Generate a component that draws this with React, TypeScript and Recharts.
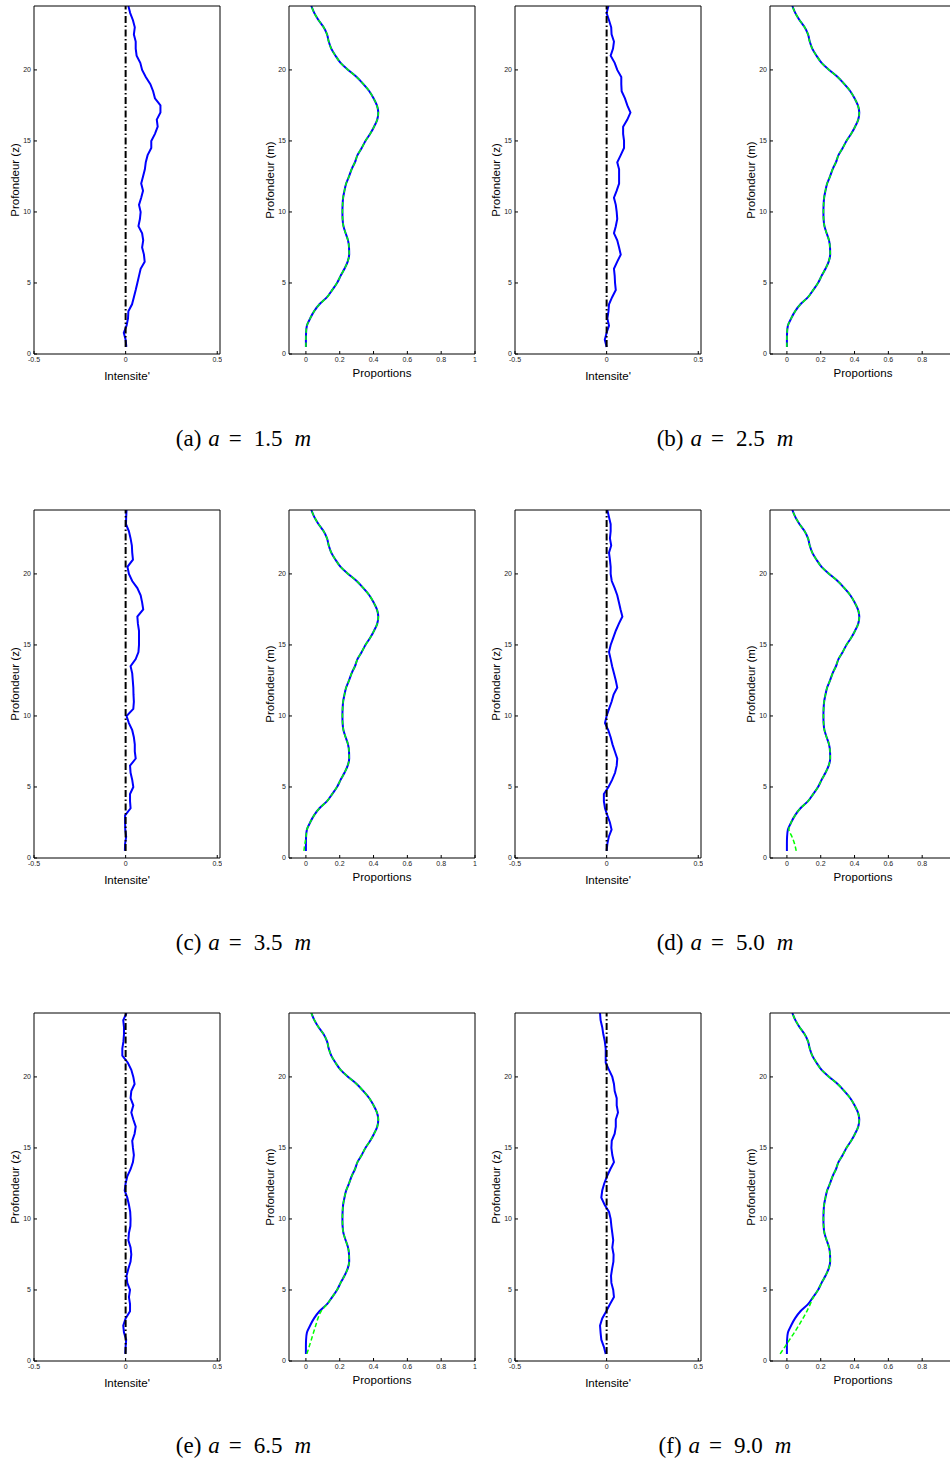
import { LineChart, Line, XAxis, YAxis } from 'recharts';

const SANS = '"Liberation Sans", Arial, Helvetica, sans-serif';
const SERIF = '"Liberation Serif", "Times New Roman", serif';

// depth samples (m), shared by every profile
const depths = [
  0.5, 1, 1.5, 2, 2.5, 3, 3.5, 4, 4.5, 5, 5.5, 6, 6.5, 7, 7.5, 8, 8.5, 9, 9.5, 10,
  10.5, 11, 11.5, 12, 12.5, 13, 13.5, 14, 14.5, 15, 15.5, 16, 16.5, 17, 17.5, 18,
  18.5, 19, 19.5, 20, 20.5, 21, 21.5, 22, 22.5, 23, 23.5, 24, 24.5,
];

// intensity profiles, one per spacing a
const intensityA = [
  0.004, 0, -0.01, 0.005, 0.013, 0.015, 0.035, 0.045, 0.055, 0.064,
  0.073, 0.082, 0.104, 0.1, 0.09, 0.096, 0.09, 0.07, 0.078, 0.082,
  0.073, 0.085, 0.095, 0.085, 0.095, 0.105, 0.11, 0.12, 0.14, 0.14,
  0.16, 0.175, 0.17, 0.19, 0.19, 0.16, 0.15, 0.135, 0.11, 0.09,
  0.08, 0.06, 0.055, 0.055, 0.045, 0.05, 0.04, 0.025, 0.015,
];
const intensityB = [
  0, -0.01, 0, 0.013, 0.004, 0.01, 0.013, 0.03, 0.05, 0.046,
  0.044, 0.04, 0.058, 0.077, 0.068, 0.058, 0.04, 0.05, 0.058, 0.055,
  0.05, 0.04, 0.055, 0.068, 0.068, 0.068, 0.058, 0.077, 0.095, 0.095,
  0.09, 0.09, 0.113, 0.13, 0.113, 0.1, 0.082, 0.08, 0.08, 0.058,
  0.044, 0.022, 0.035, 0.04, 0.027, 0.025, 0.013, 0, 0.01,
];
const intensityC = [
  -0.004, -0.003, 0.003, -0.002, -0.003, -0.003, 0.027, 0.024, 0.024, 0.042,
  0.036, 0.027, 0.024, 0.055, 0.05, 0.05, 0.045, 0.036, 0.018, 0.005,
  0.042, 0.045, 0.043, 0.042, 0.039, 0.036, 0.027, 0.055, 0.07, 0.073,
  0.073, 0.073, 0.067, 0.064, 0.096, 0.09, 0.082, 0.064, 0.036, 0.018,
  0.01, 0.04, 0.036, 0.034, 0.027, 0.018, 0.002, 0.003, 0.005,
];
const intensityD = [
  0, 0.004, 0.012, 0.027, 0.018, 0.004, -0.009, -0.015, -0.015, 0.01,
  0.03, 0.046, 0.055, 0.058, 0.045, 0.032, 0.022, 0.009, -0.009, 0,
  0.013, 0.027, 0.038, 0.058, 0.05, 0.04, 0.03, 0.022, 0.013, 0.022,
  0.036, 0.05, 0.067, 0.086, 0.076, 0.067, 0.058, 0.044, 0.028, 0.022,
  0.022, 0.018, 0.013, 0.025, 0.018, 0.022, 0.022, 0.013, 0.004,
];
const intensityE = [
  -0.002, 0, 0.003, -0.009, -0.013, 0, 0.024, 0.024, 0.018, 0.024,
  0.009, 0.005, 0.015, 0.027, 0.031, 0.027, 0.015, 0.018, 0.026, 0.027,
  0.025, 0.018, 0.009, -0.005, 0, 0.009, 0.027, 0.04, 0.045, 0.04,
  0.036, 0.049, 0.055, 0.042, 0.031, 0.042, 0.027, 0.031, 0.049, 0.042,
  0.031, 0.012, -0.018, -0.018, -0.012, -0.009, -0.009, -0.013, 0.005,
];
const intensityF = [
  -0.005, -0.015, -0.029, -0.033, -0.036, -0.024, -0.002, 0.018, 0.04, 0.036,
  0.026, 0.024, 0.03, 0.037, 0.038, 0.031, 0.036, 0.031, 0.026, 0.022,
  0.013, -0.011, -0.029, -0.024, -0.013, 0.002, 0.02, 0.04, 0.031, 0.026,
  0.028, 0.044, 0.05, 0.05, 0.062, 0.055, 0.055, 0.044, 0.04, 0.031,
  0.013, -0.005, -0.005, -0.005, -0.01, -0.018, -0.024, -0.033, -0.036,
];

// true proportion profile (same in every case)
const proportionTrue = [
  0, 0, 0.001, 0.006, 0.025, 0.048, 0.08, 0.125, 0.155, 0.184,
  0.205, 0.228, 0.247, 0.256, 0.255, 0.249, 0.235, 0.222, 0.217, 0.216,
  0.217, 0.22, 0.228, 0.238, 0.255, 0.27, 0.29, 0.305, 0.33, 0.352,
  0.38, 0.403, 0.422, 0.428, 0.42, 0.4, 0.375, 0.34, 0.3, 0.25,
  0.205, 0.175, 0.15, 0.135, 0.125, 0.105, 0.075, 0.05, 0.032,
];

// estimated proportions only move away from the true profile near the bottom
const estimateLowA: number[] = [];
const estimateLowB: number[] = [];
const estimateLowC = [-0.012, -0.006];
const estimateLowD = [0.055, 0.045, 0.03, 0.012];
const estimateLowE = [0.006, 0.019, 0.032, 0.045, 0.058, 0.071, 0.09];
const estimateLowF = [-0.04, -0.012, 0.016, 0.044, 0.07, 0.095, 0.118, 0.138, 0.157];

const depthTicks = [0, 5, 10, 15, 20];
const intensityTicks = [-0.5, 0, 0.5];
const proportionTicks = [0, 0.2, 0.4, 0.6, 0.8, 1];
const zeroLevel = 0;

const caseTags = ['a', 'b', 'c', 'd', 'e', 'f'];
const spacings = ['1.5', '2.5', '3.5', '5.0', '6.5', '9.0'];
const intensities = [intensityA, intensityB, intensityC, intensityD, intensityE, intensityF];
const estimateLows = [estimateLowA, estimateLowB, estimateLowC, estimateLowD, estimateLowE, estimateLowF];

// layout
const PLOT_W = 186;
const PLOT_H = 348;
const AXIS_W = 38;
const TOP_PAD = 6;
const ROW_TOPS = [6, 510, 1013];
const COL_LEFTS = [34, 515];
const PAIR_GAP = 255;
const CAPTION_X = [243.5, 725];

const tickStyle = { fontSize: 7, fill: '#222', fontFamily: SANS };
const frameStroke = { stroke: '#000', strokeWidth: 1 };

function IntensityPanel({ values, left, top }: { values: number[]; left: number; top: number }) {
  const rows = depths.map((z, i) => ({ z, value: values[i], zero: zeroLevel }));
  const domain: [number, number] = [-0.5, 0.515];
  return (
    <div style={{ position: 'absolute', left: left - AXIS_W, top: top - TOP_PAD }}>
      <LineChart
        layout="vertical"
        width={AXIS_W + PLOT_W + 2}
        height={TOP_PAD + PLOT_H + 44}
        data={rows}
        margin={{ top: TOP_PAD - 1, right: 1, bottom: 0, left: 0 }}
      >
        <XAxis
          type="number"
          domain={domain}
          ticks={intensityTicks}
          interval={0}
          allowDataOverflow
          height={44}
          tickSize={-3}
          tickMargin={6}
          tick={tickStyle}
          axisLine={frameStroke}
          tickLine={frameStroke}
          label={{ value: "Intensite'", position: 'center', fontSize: 11.5, fill: '#000', fontFamily: SANS }}
        />
        <XAxis
          xAxisId="top"
          orientation="top"
          type="number"
          domain={domain}
          ticks={intensityTicks}
          interval={0}
          allowDataOverflow
          height={1}
          tickSize={-3}
          tick={false}
          axisLine={frameStroke}
          tickLine={frameStroke}
        />
        <YAxis
          type="number"
          dataKey="z"
          domain={[0, 24.5]}
          reversed
          ticks={depthTicks}
          interval={0}
          allowDataOverflow
          width={AXIS_W}
          tickSize={-3}
          tickMargin={6}
          tick={tickStyle}
          axisLine={frameStroke}
          tickLine={frameStroke}
          label={{ value: 'Profondeur (z)', angle: -90, position: 'center', fontSize: 11.5, fill: '#000', fontFamily: SANS }}
        />
        <YAxis
          yAxisId="right"
          orientation="right"
          type="number"
          domain={[0, 24.5]}
          reversed
          ticks={depthTicks}
          interval={0}
          allowDataOverflow
          width={1}
          tickSize={-3}
          tick={false}
          axisLine={frameStroke}
          tickLine={frameStroke}
        />
        <Line
          type="linear"
          dataKey="value"
          stroke="#0000ff"
          strokeWidth={2}
          dot={false}
          activeDot={false}
          isAnimationActive={false}
        />
        <Line
          type="linear"
          dataKey="zero"
          stroke="#000"
          strokeWidth={2}
          strokeDasharray="7 2.5 1.5 2.5"
          dot={false}
          activeDot={false}
          isAnimationActive={false}
        />
      </LineChart>
    </div>
  );
}

function ProportionPanel({ lows, left, top }: { lows: number[]; left: number; top: number }) {
  const rows = depths.map((z, i) => ({
    z,
    truth: proportionTrue[i],
    estimate: i < lows.length ? lows[i] : proportionTrue[i],
  }));
  const domain: [number, number] = [-0.1, 1];
  return (
    <div style={{ position: 'absolute', left: left - AXIS_W, top: top - TOP_PAD }}>
      <LineChart
        layout="vertical"
        width={AXIS_W + PLOT_W + 2}
        height={TOP_PAD + PLOT_H + 38}
        data={rows}
        margin={{ top: TOP_PAD - 1, right: 1, bottom: 0, left: 0 }}
      >
        <XAxis
          type="number"
          domain={domain}
          ticks={proportionTicks}
          interval={0}
          allowDataOverflow
          height={38}
          tickSize={-3}
          tickMargin={6}
          tick={tickStyle}
          axisLine={frameStroke}
          tickLine={frameStroke}
          label={{ value: 'Proportions', position: 'center', fontSize: 11.5, fill: '#000', fontFamily: SANS }}
        />
        <XAxis
          xAxisId="top"
          orientation="top"
          type="number"
          domain={domain}
          ticks={proportionTicks}
          interval={0}
          allowDataOverflow
          height={1}
          tickSize={-3}
          tick={false}
          axisLine={frameStroke}
          tickLine={frameStroke}
        />
        <YAxis
          type="number"
          dataKey="z"
          domain={[0, 24.5]}
          reversed
          ticks={depthTicks}
          interval={0}
          allowDataOverflow
          width={AXIS_W}
          tickSize={-3}
          tickMargin={6}
          tick={tickStyle}
          axisLine={frameStroke}
          tickLine={frameStroke}
          label={{ value: 'Profondeur (m)', angle: -90, position: 'center', fontSize: 11.5, fill: '#000', fontFamily: SANS }}
        />
        <YAxis
          yAxisId="right"
          orientation="right"
          type="number"
          domain={[0, 24.5]}
          reversed
          ticks={depthTicks}
          interval={0}
          allowDataOverflow
          width={1}
          tickSize={-3}
          tick={false}
          axisLine={frameStroke}
          tickLine={frameStroke}
        />
        <Line
          type="monotone"
          dataKey="truth"
          stroke="#0000ff"
          strokeWidth={2}
          dot={false}
          activeDot={false}
          isAnimationActive={false}
        />
        <Line
          type="monotone"
          dataKey="estimate"
          stroke="#00ff00"
          strokeWidth={1.5}
          strokeDasharray="4.5 2.5"
          dot={false}
          activeDot={false}
          isAnimationActive={false}
        />
      </LineChart>
    </div>
  );
}

export default function App() {
  return (
    <div
      style={{
        position: 'absolute',
        left: 0,
        top: 0,
        width: 950,
        height: 1462,
        overflow: 'hidden',
        background: '#fff',
      }}
    >
      {caseTags.map((tag, k) => {
        const row = Math.floor(k / 2);
        const col = k % 2;
        const left = COL_LEFTS[col];
        const top = ROW_TOPS[row];
        return (
          <div key={tag}>
            <IntensityPanel values={intensities[k]} left={left} top={top} />
            <ProportionPanel lows={estimateLows[k]} left={left + PAIR_GAP} top={top} />
          </div>
        );
      })}
      <svg width={950} height={1462} style={{ position: 'absolute', left: 0, top: 0, pointerEvents: 'none' }}>
        {caseTags.map((tag, k) => {
          const row = Math.floor(k / 2);
          const col = k % 2;
          return (
            <text
              key={tag}
              x={CAPTION_X[col]}
              y={ROW_TOPS[row] + 440}
              textAnchor="middle"
              fontFamily={SERIF}
              fontSize={23}
              fill="#000"
            >
              ({tag})
              <tspan dx={7} fontStyle="italic">a</tspan>
              <tspan dx={9}>=</tspan>
              <tspan dx={12}>{spacings[k]}</tspan>
              <tspan dx={12} fontStyle="italic">m</tspan>
            </text>
          );
        })}
      </svg>
    </div>
  );
}
